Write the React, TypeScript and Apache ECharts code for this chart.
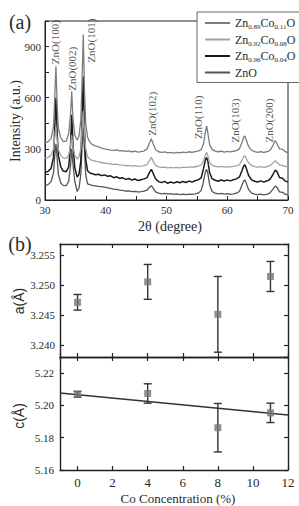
import React, { useEffect, useRef } from "react";
import * as echarts from "echarts";

// ---- XRD patterns (2θ in degrees, intensity in a.u.) ----
const twoTheta = [
  30.0, 30.5, 31.0, 31.4, 31.6, 31.8, 32.0, 32.2, 32.6, 33.0, 33.5, 33.9, 34.2, 34.4, 34.6, 34.9, 35.3, 35.6, 35.9, 36.1,
  36.3, 36.5, 36.7, 37.0, 37.4, 37.8, 38.3, 38.8, 39.3, 39.8, 40.3, 40.8, 41.3, 41.8, 42.3, 42.8, 43.3, 43.8, 44.3, 44.8,
  45.3, 45.8, 46.3, 46.8, 47.2, 47.5, 47.8, 48.2, 48.7, 49.2, 49.7, 50.2, 50.7, 51.2, 51.7, 52.2, 52.7, 53.2, 53.7, 54.2,
  54.7, 55.2, 55.7, 56.1, 56.4, 56.6, 56.8, 57.1, 57.5, 58.0, 58.5, 59.0, 59.5, 60.0, 60.5, 61.0, 61.5, 62.0, 62.4, 62.7,
  62.9, 63.1, 63.5, 64.0, 64.5, 65.0, 65.5, 66.0, 66.5, 67.0, 67.5, 67.9, 68.2, 68.6, 69.1, 69.5, 70.0,
];

const intensityCo11 = [
  335, 342, 360, 430, 600, 784, 560, 420, 365, 342, 345, 390, 500, 637, 480, 380, 352, 375, 470, 700,
  970, 640, 450, 370, 338, 325, 318, 312, 305, 300, 297, 293, 291, 294, 288, 290, 285, 288, 283, 286,
  281, 284, 287, 300, 335, 359, 330, 296, 283, 279, 282, 276, 279, 275, 280, 277, 281, 278, 283, 279,
  284, 287, 295, 330, 400, 435, 395, 325, 297, 287, 283, 286, 281, 285, 282, 286, 290, 300, 335, 368,
  376, 355, 315, 292, 284, 280, 284, 279, 283, 290, 318, 349, 330, 300, 298, 285, 276,
];

const intensityCo08 = [
  245, 250, 262, 300, 370, 430, 355, 295, 262, 246, 244, 265, 320, 380, 310, 262, 240, 255, 300, 420,
  520, 390, 300, 255, 238, 232, 228, 224, 220, 217, 214, 212, 209, 211, 206, 204, 201, 203, 199, 201,
  197, 199, 202, 208, 232, 250, 228, 203, 194, 191, 193, 189, 192, 188, 191, 189, 193, 190, 194, 191,
  195, 198, 205, 230, 265, 280, 260, 222, 204, 197, 194, 197, 193, 196, 194, 197, 200, 207, 232, 254,
  259, 245, 218, 202, 196, 193, 196, 192, 195, 201, 215, 231, 220, 205, 203, 197, 195,
];

const intensityCo04 = [
  160, 168, 185, 250, 420, 600, 400, 260, 195, 170, 166, 195, 320, 500, 330, 190, 135, 150, 230, 480,
  725, 420, 240, 172, 158, 154, 148, 151, 143, 147, 139, 142, 131, 136, 127, 130, 121, 126, 117, 123,
  114, 119, 124, 131, 162, 180, 157, 125, 108, 102, 109, 98, 106, 99, 107, 101, 109, 103, 111, 105,
  113, 118, 130, 185, 235, 250, 228, 160, 125, 116, 110, 117, 111, 118, 112, 119, 124, 135, 170, 200,
  206, 190, 145, 118, 110, 106, 112, 105, 111, 120, 148, 176, 165, 132, 128, 112, 105,
];

const intensityZnO = [
  85, 90, 108, 160, 255, 330, 245, 150, 100, 86, 84, 110, 200, 300, 210, 110, 50, 70, 150, 310,
  420, 290, 150, 95, 90, 86, 83, 80, 78, 75, 71, 68, 64, 62, 58, 56, 52, 54, 49, 51,
  47, 49, 52, 58, 75, 84, 70, 48, 40, 36, 39, 34, 37, 33, 36, 32, 35, 31, 34, 33,
  36, 40, 55, 110, 165, 180, 158, 90, 50, 40, 36, 39, 34, 37, 33, 36, 40, 50, 85, 112,
  118, 102, 62, 40, 34, 31, 34, 30, 33, 40, 62, 82, 74, 48, 45, 34, 30,
];

const sampleNames = ["Zn0.89Co0.11O", "Zn0.92Co0.08O", "Zn0.96Co0.04O", "ZnO"];

// Reflection annotations: Miller index label, 2θ and intensity of the label centre
const reflectionNames = ["ZnO(100)", "ZnO(002)", "ZnO(101)", "ZnO(102)", "ZnO(110)", "ZnO(103)", "ZnO(200)"];
const reflectionAngles = [31.65, 34.45, 37.5, 47.55, 55.15, 61.3, 66.9];
const reflectionLabelLevels = [926, 770, 935, 506, 485, 466, 466];

// ---- Lattice parameters vs Co concentration ----
const coConcentration = [0, 4, 8, 11];
const latticeA = [3.2471, 3.2505, 3.2451, 3.2514];
const latticeAErr = [0.0013, 0.0029, 0.0063, 0.0025];
const latticeC = [5.2069, 5.2074, 5.1862, 5.1954];
const latticeCErr = [0.0018, 0.006, 0.015, 0.006];
const fitConcentration = [-1, 12];
const fitC = [5.2077, 5.1941];

const serif = "Liberation Serif";
const sans = "Liberation Sans";
const axisColor = "#222";
const textColor = "#2a2a2a";

const lineColors = ["#7c7c7c", "#a2a2a2", "#1a1a1a", "#555555"];
const lineWidths = [1.3, 1.3, 1.5, 1.3];

function legendLabel(name: string): string {
  const m = /^Zn([\d.]+)Co([\d.]+)O$/.exec(name);
  if (!m) return `{m|${name}}`;
  return `{m|Zn}{s|${m[1]}}{m|Co}{s|${m[2]}}{m|O}`;
}

function errorBarItem(color: string) {
  return (params: any, api: any) => {
    const x = api.value(0);
    const y = api.value(1);
    const e = api.value(2);
    const top = api.coord([x, y + e]);
    const bot = api.coord([x, y - e]);
    const cap = 4;
    const style = { stroke: color, lineWidth: 1.4 };
    return {
      type: "group",
      children: [
        { type: "line", shape: { x1: top[0], y1: top[1], x2: bot[0], y2: bot[1] }, style },
        { type: "line", shape: { x1: top[0] - cap, y1: top[1], x2: top[0] + cap, y2: top[1] }, style },
        { type: "line", shape: { x1: bot[0] - cap, y1: bot[1], x2: bot[0] + cap, y2: bot[1] }, style },
      ],
    };
  };
}

function boxAxis(extra: any) {
  return {
    type: "value",
    axisLine: { show: true, onZero: false, lineStyle: { color: axisColor, width: 1.4 } },
    axisTick: { show: true, inside: true, length: 4, lineStyle: { color: axisColor, width: 1.2 } },
    axisLabel: { show: false },
    splitLine: { show: false },
    ...extra,
  };
}

export default function App() {
  const ref = useRef<HTMLDivElement>(null);

  useEffect(() => {
    if (!ref.current) return;
    const chart = echarts.init(ref.current, null, { renderer: "svg" });

    const patterns = [intensityCo11, intensityCo08, intensityCo04, intensityZnO];
    const xrdSeries = patterns
      .map((vals, k) => ({
        name: sampleNames[k],
        type: "line",
        xAxisIndex: 0,
        yAxisIndex: 0,
        symbol: "none",
        showSymbol: false,
        smooth: false,
        data: twoTheta.map((t, i) => [t, vals[i]]),
        lineStyle: { color: lineColors[k], width: lineWidths[k] },
        itemStyle: { color: lineColors[k] },
        z: 2,
      }))
      .reverse();

    const option: any = {
      animation: false,
      backgroundColor: "#fff",
      textStyle: { fontFamily: serif },
      grid: [
        { left: 45, top: 21, width: 243, height: 179, show: true, borderColor: axisColor, borderWidth: 1, backgroundColor: "transparent" },
        { left: 60, top: 244, width: 228, height: 113 },
        { left: 60, top: 357, width: 228, height: 113 },
      ],
      legend: {
        data: sampleNames.map((n) => ({ name: n, icon: "rect" })),
        orient: "vertical",
        left: 197,
        top: 12,
        padding: [5, 5, 4, 8],
        itemGap: 3,
        itemWidth: 25,
        itemHeight: 2,
        selectedMode: false,
        backgroundColor: "#fff",
        borderColor: "#666",
        borderWidth: 1,
        formatter: legendLabel,
        textStyle: {
          fontFamily: serif,
          rich: {
            m: { fontFamily: serif, fontSize: 12, color: textColor, lineHeight: 15 },
            s: { fontFamily: serif, fontSize: 7, color: textColor, verticalAlign: "bottom", lineHeight: 9 },
          },
        },
        z: 10,
      },
      xAxis: [
        {
          gridIndex: 0,
          type: "value",
          min: 30,
          max: 70,
          interval: 5,
          axisLine: { onZero: false, lineStyle: { color: axisColor, width: 1 } },
          axisTick: { inside: true, length: 4, lineStyle: { color: axisColor } },
          axisLabel: {
            formatter: (v: number) => (v % 10 === 0 ? String(v) : ""),
            fontFamily: serif,
            fontSize: 11,
            color: textColor,
            margin: 4,
          },
          splitLine: { show: false },
        },
        boxAxis({ gridIndex: 1, position: "bottom", min: -1, max: 12, splitNumber: 6 }),
        boxAxis({ gridIndex: 1, position: "top", min: -1, max: 12, splitNumber: 6 }),
        boxAxis({
          gridIndex: 2,
          position: "bottom",
          min: -1,
          max: 12,
          splitNumber: 6,
          axisLabel: {
            show: true,
            showMinLabel: false,
            fontFamily: serif,
            fontSize: 13,
            color: textColor,
            margin: 6,
          },
        }),
        boxAxis({ gridIndex: 2, position: "top", min: -1, max: 12, splitNumber: 6 }),
      ],
      yAxis: [
        {
          gridIndex: 0,
          type: "value",
          min: 0,
          max: 1050,
          interval: 150,
          axisLine: { onZero: false, lineStyle: { color: axisColor, width: 1 } },
          axisTick: { inside: true, length: 4, lineStyle: { color: axisColor } },
          axisLabel: {
            formatter: (v: number) => (v % 300 === 0 ? String(v) : ""),
            fontFamily: serif,
            fontSize: 11,
            color: textColor,
            margin: 4,
          },
          splitLine: { show: false },
        },
        boxAxis({
          gridIndex: 1,
          position: "left",
          min: 3.238,
          max: 3.2568,
          splitNumber: 4,
          axisLabel: {
            show: true,
            showMinLabel: false,
            showMaxLabel: false,
            formatter: (v: number) => v.toFixed(3),
            fontFamily: serif,
            fontSize: 11,
            color: textColor,
            margin: 5,
          },
        }),
        boxAxis({ gridIndex: 1, position: "right", min: 3.238, max: 3.2568, splitNumber: 4 }),
        boxAxis({
          gridIndex: 2,
          position: "left",
          min: 5.16,
          max: 5.23,
          interval: 0.02,
          axisLabel: {
            show: true,
            showMaxLabel: false,
            formatter: (v: number) => v.toFixed(2),
            fontFamily: serif,
            fontSize: 11,
            color: textColor,
            margin: 6,
          },
        }),
        boxAxis({ gridIndex: 2, position: "right", min: 5.16, max: 5.23, interval: 0.02 }),
      ],
      series: [
        ...xrdSeries,
        {
          name: "reflections",
          type: "scatter",
          xAxisIndex: 0,
          yAxisIndex: 0,
          symbolSize: 1,
          itemStyle: { color: "rgba(0,0,0,0)" },
          data: reflectionNames.map((n, i) => ({ name: n, value: [reflectionAngles[i], reflectionLabelLevels[i]] })),
          label: {
            show: true,
            position: "inside",
            rotate: 90,
            formatter: (p: any) => p.name,
            fontFamily: serif,
            fontSize: 11,
            color: textColor,
          },
          silent: true,
          z: 5,
        },
        {
          type: "custom",
          xAxisIndex: 1,
          yAxisIndex: 1,
          renderItem: errorBarItem("#333"),
          encode: { x: 0, y: 1 },
          data: coConcentration.map((c, i) => [c, latticeA[i], latticeAErr[i]]),
          z: 3,
        },
        {
          type: "scatter",
          xAxisIndex: 1,
          yAxisIndex: 1,
          symbol: "rect",
          symbolSize: 7,
          itemStyle: { color: "#767676" },
          data: coConcentration.map((c, i) => [c, latticeA[i]]),
          z: 4,
        },
        {
          type: "line",
          xAxisIndex: 3,
          yAxisIndex: 3,
          symbol: "none",
          data: fitConcentration.map((c, i) => [c, fitC[i]]),
          lineStyle: { color: "#333", width: 1.5 },
          z: 2,
        },
        {
          type: "custom",
          xAxisIndex: 3,
          yAxisIndex: 3,
          renderItem: errorBarItem("#333"),
          encode: { x: 0, y: 1 },
          data: coConcentration.map((c, i) => [c, latticeC[i], latticeCErr[i]]),
          z: 3,
        },
        {
          type: "scatter",
          xAxisIndex: 3,
          yAxisIndex: 3,
          symbol: "rect",
          symbolSize: 7,
          itemStyle: { color: "#767676" },
          data: coConcentration.map((c, i) => [c, latticeC[i]]),
          z: 4,
        },
      ],
      graphic: [
        { type: "text", x: 20, y: 22, style: { text: "(a)", fontFamily: serif, fontSize: 20, fill: textColor, align: "center", verticalAlign: "middle" } },
        { type: "text", x: 20, y: 244, style: { text: "(b)", fontFamily: serif, fontSize: 20, fill: textColor, align: "center", verticalAlign: "middle" } },
        {
          type: "text",
          x: 15,
          y: 121,
          rotation: Math.PI / 2,
          style: { text: "Intensity (a.u.)", fontFamily: serif, fontSize: 14, fill: textColor, align: "center", verticalAlign: "middle" },
        },
        { type: "text", x: 170, y: 226, style: { text: "2θ (degree)", fontFamily: serif, fontSize: 14, fill: textColor, align: "center", verticalAlign: "middle" } },
        {
          type: "text",
          x: 19,
          y: 301,
          rotation: Math.PI / 2,
          style: { text: "a(Å)", fontFamily: sans, fontSize: 14, fill: textColor, align: "center", verticalAlign: "middle" },
        },
        {
          type: "text",
          x: 19,
          y: 416,
          rotation: Math.PI / 2,
          style: { text: "c(Å)", fontFamily: sans, fontSize: 14, fill: textColor, align: "center", verticalAlign: "middle" },
        },
        { type: "text", x: 178, y: 498, style: { text: "Co Concentration (%)", fontFamily: serif, fontSize: 13, fill: textColor, align: "center", verticalAlign: "middle" } },
      ],
    };

    chart.setOption(option);
    return () => chart.dispose();
  }, []);

  return <div ref={ref} style={{ position: "absolute", left: 0, top: 0, width: 299, height: 506 }} />;
}
